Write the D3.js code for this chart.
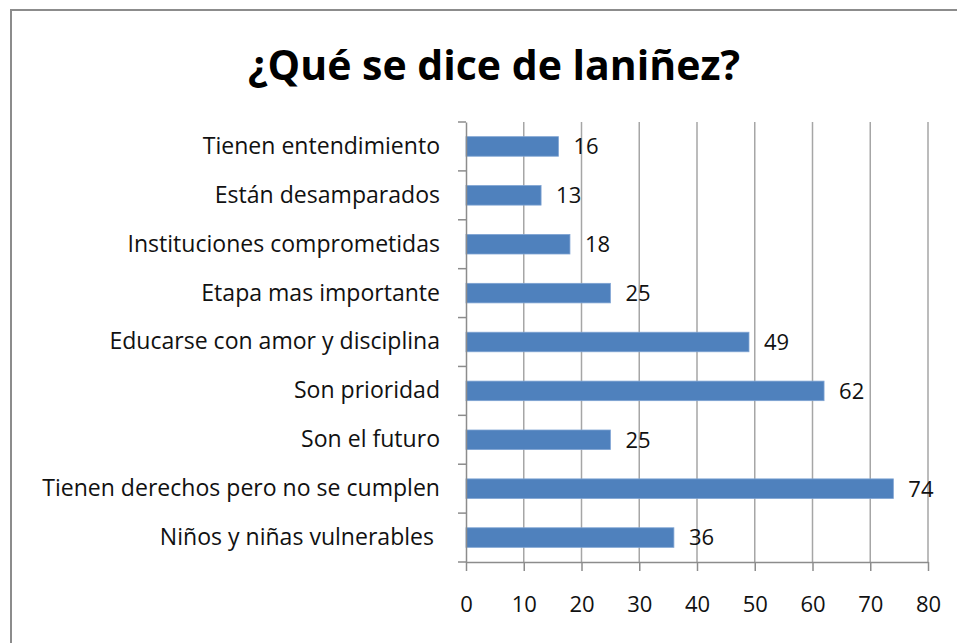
<!DOCTYPE html>
<html>
<head>
<meta charset="utf-8">
<script src="https://cdn.jsdelivr.net/npm/d3@7"></script>
<style>
  html, body { margin: 0; padding: 0; background: #fff; }
  svg { display: block; }
  text { font-family: "Open Sans", sans-serif; }
</style>
</head>
<body>
<svg id="chart" width="957" height="643"></svg>
<script>
const title = "¿Qué se dice de laniñez?";
const categories = [
  "Tienen entendimiento",
  "Están desamparados",
  "Instituciones comprometidas",
  "Etapa mas importante",
  "Educarse con amor y disciplina",
  "Son prioridad",
  "Son el futuro",
  "Tienen derechos pero no se cumplen",
  "Niños y niñas vulnerables "
];
const values = [16, 13, 18, 25, 49, 62, 25, 74, 36];
const xTicks = [0, 10, 20, 30, 40, 50, 60, 70, 80];

const svg = d3.select("#chart");
const W = 957, H = 643;
const m = { left: 466, right: 957 - 928, top: 122, bottom: 643 - 562 };
const FONT = "'Open Sans', sans-serif";

// outer frame
svg.append("rect").attr("x", 11).attr("y", 10).attr("width", W + 20).attr("height", H + 20)
  .attr("fill", "#fff").attr("stroke", "#8c8c8c").attr("stroke-width", 2);

const t = svg.append("text").attr("x", 494).attr("y", 80).attr("text-anchor", "middle")
  .attr("font-size", 40).attr("font-weight", "bold").attr("fill", "#000").text(title);
// fit title width to the reference's
const tw = t.node().getComputedTextLength();
t.attr("font-size", 40 * 492 / tw);

const x = d3.scaleLinear().domain([0, 80]).range([m.left, W - m.right]);
const y = d3.scaleBand().domain(categories).range([m.top, H - m.bottom]).paddingInner(0.6).paddingOuter(0.3);
const yb = d3.scaleBand().domain(categories).range([m.top, H - m.bottom]);

// gridlines
svg.append("g").selectAll("line").data(xTicks.slice(1)).join("line")
  .attr("x1", d => x(d)).attr("x2", d => x(d))
  .attr("y1", m.top).attr("y2", H - m.bottom)
  .attr("stroke", "#a6a6a6").attr("stroke-width", 1.5);

// bars
svg.append("g").selectAll("rect").data(values).join("rect")
  .attr("x", x(0)).attr("y", (d, i) => y(categories[i]))
  .attr("width", d => x(d) - x(0)).attr("height", y.bandwidth())
  .attr("fill", "#4f81bd").attr("stroke", "#7ea3d3").attr("stroke-width", 0.8);

// x axis
const xAxis = d3.axisBottom(x).tickValues(xTicks).tickSize(9).tickPadding(25).tickSizeOuter(0);
const gx = svg.append("g").attr("transform", `translate(0,${H - m.bottom})`).call(xAxis);
gx.select(".domain").attr("stroke", "#8c8c8c").attr("stroke-width", 1.5);
gx.selectAll(".tick line").attr("stroke", "#8c8c8c").attr("stroke-width", 1.5);
gx.selectAll(".tick text").attr("font-size", 22).attr("fill", "#111").attr("font-family", FONT);

// y axis
const yAxis = d3.axisLeft(yb).tickSize(0).tickPadding(26);
const gy = svg.append("g").attr("transform", `translate(${m.left},0)`).call(yAxis);
gy.select(".domain").attr("stroke", "#8c8c8c").attr("stroke-width", 1.5);
const labels = gy.selectAll(".tick text").attr("font-size", 20).attr("fill", "#111")
  .attr("font-family", FONT).style("white-space", "pre");
// fit longest label to the reference width (~398px)
let maxW = 0;
labels.each(function() { maxW = Math.max(maxW, this.getComputedTextLength()); });
labels.attr("font-size", 20 * 398 / maxW);

// boundary tick marks
const bounds = categories.map(c => yb(c)).concat([yb.range()[1]]);
svg.append("g").selectAll("line").data(bounds).join("line")
  .attr("x1", m.left - 8).attr("x2", m.left).attr("y1", d => d).attr("y2", d => d)
  .attr("stroke", "#8c8c8c").attr("stroke-width", 1.5);

// value labels
svg.append("g").selectAll("text").data(values).join("text")
  .attr("x", d => x(d) + 15).attr("y", (d, i) => yb(categories[i]) + yb.bandwidth() / 2)
  .attr("dy", "0.36em").attr("font-size", 22).attr("fill", "#111").attr("font-family", FONT).text(d => d);
</script>
</body>
</html>
